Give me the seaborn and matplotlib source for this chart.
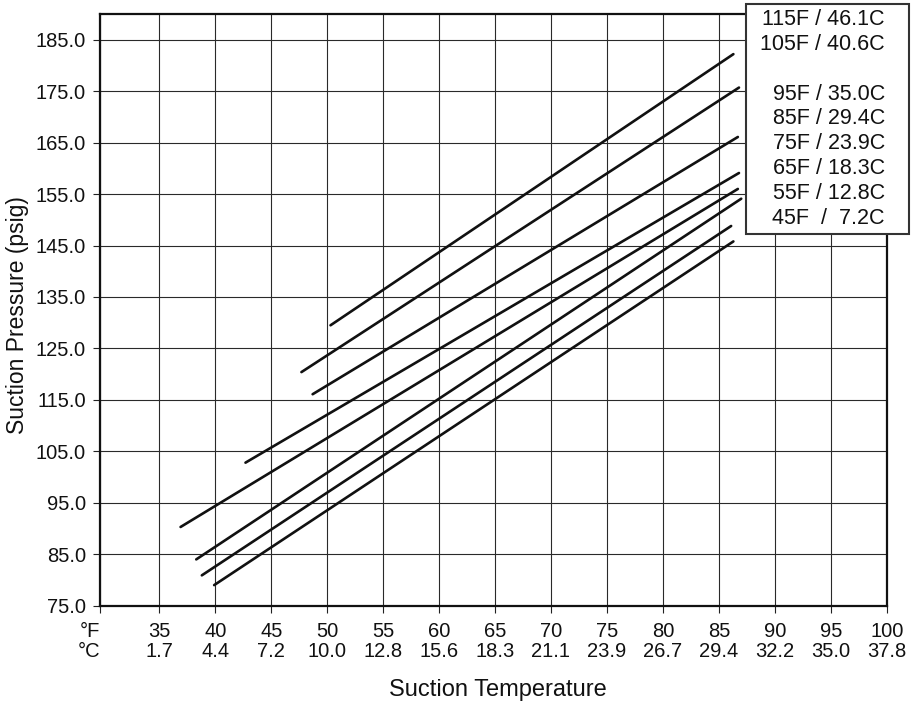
import matplotlib
matplotlib.use("Agg")
import matplotlib.pyplot as plt
from matplotlib.patches import Rectangle
import pandas as pd
import seaborn as sns

# Ambient temperature curves: suction temperature (F) vs suction pressure (psig)
ambient = ["115F", "105F", "95F", "85F", "75F", "65F", "55F", "45F"]
start_temp = [50.3, 47.7, 48.7, 42.7, 36.9, 38.3, 38.8, 39.9]
start_psig = [129.5, 120.4, 116.1, 102.8, 90.3, 84.0, 80.9, 79.0]
end_temp = [86.3, 86.8, 86.7, 86.8, 86.7, 87.0, 86.1, 86.3]
end_psig = [182.2, 175.7, 166.1, 159.1, 156.0, 154.1, 148.8, 145.8]

# Axis ticks and labels
x_ticks_f = [35, 40, 45, 50, 55, 60, 65, 70, 75, 80, 85, 90, 95, 100]
x_ticks_c = ["1.7", "4.4", "7.2", "10.0", "12.8", "15.6", "18.3", "21.1",
             "23.9", "26.7", "29.4", "32.2", "35.0", "37.8"]
y_ticks = [75, 85, 95, 105, 115, 125, 135, 145, 155, 165, 175, 185]

# Key text (blank entry leaves a gap between the 105F and 95F rows)
key_labels = ["115F / 46.1C", "105F / 40.6C", "", "95F / 35.0C",
              "85F / 29.4C", "75F / 23.9C", "65F / 18.3C",
              "55F / 12.8C", "45F  /  7.2C"]

sns.set_theme(style="white")
plt.rcParams["font.family"] = ["Liberation Sans", "DejaVu Sans"]

W, H = 919, 706
fig = plt.figure(figsize=(W / 100, H / 100), dpi=100)
fig.patch.set_facecolor("white")

left, right, top, bottom = 100, 886.7, 14, 605.7
ax = fig.add_axes([left / W, 1 - bottom / H, (right - left) / W, (bottom - top) / H])
ax.set_facecolor("white")

rows = []
for name, x0, y0, x1, y1 in zip(ambient, start_temp, start_psig, end_temp, end_psig):
    rows.append({"ambient": name, "temp": x0, "psig": y0})
    rows.append({"ambient": name, "temp": x1, "psig": y1})
df = pd.DataFrame(rows)

sns.lineplot(data=df, x="temp", y="psig", units="ambient", estimator=None,
             color="#111111", lw=1.9, ax=ax, legend=False, sort=False, zorder=3)

xmin = 29.7
ax.set_xlim(xmin, 100)
ax.set_ylim(75, 190)
ax.set_xticks([xmin] + x_ticks_f)
ax.set_xticklabels(["°F\n°C"] + [f"{f}\n{c}" for f, c in zip(x_ticks_f, x_ticks_c)],
                   fontsize=14.5, linespacing=1.05)
ax.get_xticklabels()[0].set_horizontalalignment("right")
ax.set_yticks(y_ticks)
ax.set_yticklabels([f"{v:.1f}" for v in y_ticks], fontsize=14.5)
ax.set_xlabel("")
ax.set_ylabel("")

ax.grid(True, color="#2a2a2a", lw=0.8)
ax.set_axisbelow(True)
for s in ax.spines.values():
    s.set_visible(True)
    s.set_color("#111111")
    s.set_linewidth(1.6)
ax.tick_params(axis="both", direction="out", length=5, width=0.8, color="#222222",
               bottom=True, left=True, labelcolor="#111111")
ax.tick_params(axis="x", pad=7)
ax.tick_params(axis="y", pad=5)

fig.text(498 / W, 1 - 690 / H, "Suction Temperature", fontsize=17,
         ha="center", va="center", color="#111111")
fig.text(18 / W, 1 - 315 / H, "Suction Pressure (psig)", fontsize=16.5,
         rotation=90, ha="center", va="center", color="#111111")

# Key box drawn in figure pixels, overlapping the top-right corner of the plot
key = fig.add_axes([0, 0, 1, 1], zorder=5)
key.set_xlim(0, W)
key.set_ylim(H, 0)
key.axis("off")
key.add_patch(Rectangle((745.7, 4), 163.6, 230, facecolor="white",
                        edgecolor="#333333", lw=1.5))
key.text(885, 119, "\n".join(key_labels), fontsize=15.5, ha="right", va="center",
         multialignment="right", linespacing=1.24, color="#111111")

fig.savefig("out.png", dpi=100)
